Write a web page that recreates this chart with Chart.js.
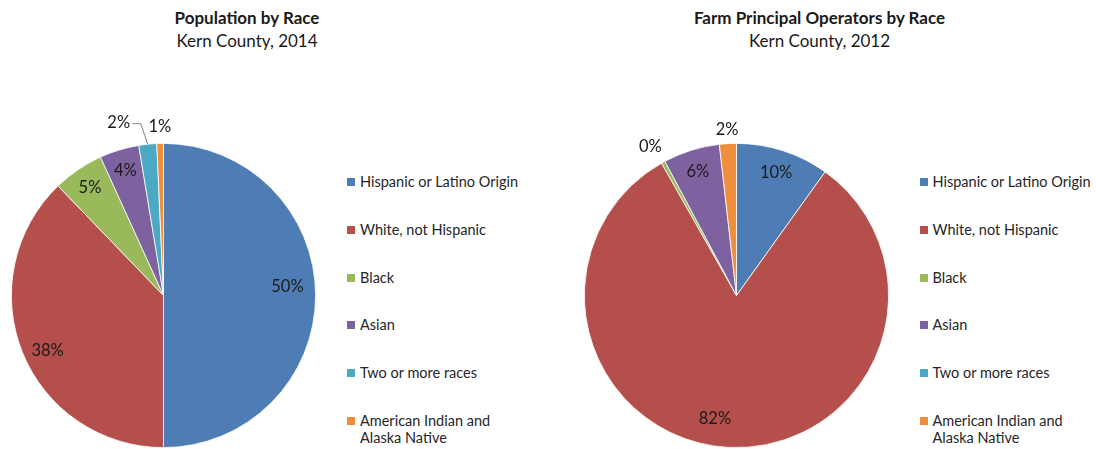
<!DOCTYPE html>
<html>
<head>
<meta charset="utf-8">
<script src="https://cdn.jsdelivr.net/npm/chart.js@4"></script>
<style>
  body { margin: 0; background: #fff; font-family: Lato, "Noto Sans", sans-serif; color: #1a1a1a; }
  #wrap { position: relative; width: 1096px; height: 449px; overflow: hidden; }
  .panel { position: absolute; top: 0; width: 494px; height: 449px; }
  .ttl { position: absolute; left: 0; width: 494px; text-align: center; font-size: 17px; line-height: 22px; }
  .ttl.main { top: 7px; font-weight: bold; }
  .ttl.sub { top: 30px; }
  .pie { position: absolute; left: 0; top: 0; width: 330px; height: 449px; }
  .legend { position: absolute; left: 347px; top: 173px; margin: 0; padding: 0; list-style: none; font-size: 14.5px; line-height: 17.5px; color: #262626; }
  .legend li { display: flex; align-items: flex-start; height: 17.5px; margin-bottom: 30.3px; }
  .legend li.two { height: 35px; }
  .legend .box { width: 8px; height: 8px; margin: 5px 5px 0 0; flex: none; }
  .legend .txt { width: 165px; }
</style>
</head>
<body>
<div id="wrap">
  <div class="panel" style="left:0">
    <div class="ttl main">Population by Race</div>
    <div class="ttl sub">Kern County, 2014</div>
    <div class="pie"><canvas id="pie-pop"></canvas></div>
    <ul class="legend" id="legend-pop"></ul>
  </div>
  <div class="panel" style="left:572.5px">
    <div class="ttl main">Farm Principal Operators by Race</div>
    <div class="ttl sub">Kern County, 2012</div>
    <div class="pie"><canvas id="pie-farm"></canvas></div>
    <ul class="legend" id="legend-farm"></ul>
  </div>
</div>
<script>
// categories (same for both pies)
var races = ["Hispanic or Latino Origin", "White, not Hispanic", "Black", "Asian", "Two or more races", "American Indian and Alaska Native"];
var raceColors = ['#4e7db5', '#b54f4b', '#99b95b', '#7e62a0', '#4ba9c3', '#ef8f3e'];

// percent shares
var population2014 = [50.0, 37.8, 5.4, 4.2, 1.9, 0.7];
var farmOperators2012 = [9.9, 81.9, 0.4, 6.0, 0, 1.8];

// where each percent label sits: fraction of radius along slice middle, plus nudge
var popLabelPlace = [
    { f: 0.815, dy: -9 }, { f: 0.85, dx: 4, dy: 7 }, { f: 0.86 }, { f: 0.86 },
    { f: 1.0, dx: -29, dy: -21.5, leader: true },
    { f: 1.11 }
];
var farmLabelPlace = [
    { f: 0.85 }, { f: 0.81, dx: -15 }, { f: 1.12, dx: -4 }, { f: 0.855 },
    null,
    { f: 1.095 }
];

// draws the "NN%" labels on/around the slices
var sliceLabels = {
    id: 'sliceLabels',
    afterDatasetsDraw: function (chart, args, opts) {
        var ctx = chart.ctx;
        var values = chart.data.datasets[0].data;
        var total = values.reduce(function (a, b) { return a + b; }, 0);
        var arcs = chart.getDatasetMeta(0).data;
        ctx.save();
        ctx.font = opts.font;
        ctx.fillStyle = '#1a1a1a';
        ctx.textAlign = 'center';
        ctx.textBaseline = 'middle';
        for (var i = 0; i < arcs.length; i++) {
            var p = opts.place[i];
            if (!p) continue;
            var a = arcs[i].getProps(['x', 'y', 'startAngle', 'endAngle', 'outerRadius'], true);
            var mid = (a.startAngle + a.endAngle) / 2;
            var ax = a.x + Math.cos(mid) * a.outerRadius * p.f;
            var ay = a.y + Math.sin(mid) * a.outerRadius * p.f;
            var lx = ax + (p.dx || 0);
            var ly = ay + (p.dy || 0);
            if (p.leader) {
                ctx.strokeStyle = '#808080';
                ctx.lineWidth = 1;
                ctx.beginPath();
                ctx.moveTo(ax, ay);
                ctx.lineTo(lx + 22, ly + 1);
                ctx.lineTo(lx + 13.5, ly + 1);
                ctx.stroke();
            }
            ctx.fillText(Math.round(values[i] / total * 100) + '%', lx, ly);
        }
        ctx.restore();
    }
};

function makePie(canvasId, values, place) {
    return new Chart(document.getElementById(canvasId), {
        type: 'pie',
        data: {
            labels: races,
            datasets: [{
                data: values,
                backgroundColor: raceColors,
                borderColor: '#ffffff',
                borderWidth: 0.8,
                hoverOffset: 0
            }]
        },
        options: {
            responsive: true,
            maintainAspectRatio: false,
            animation: false,
            layout: { padding: { top: 143, left: 10, right: 13, bottom: 1 } },
            plugins: {
                legend: { display: false },
                tooltip: { enabled: false },
                sliceLabels: { place: place, font: '16.5px Lato, "Noto Sans", sans-serif' }
            }
        },
        plugins: [sliceLabels]
    });
}

function makeLegend(listId) {
    var html = '';
    for (var i = 0; i < races.length; i++) {
        var cls = races[i].length > 26 ? ' class="two"' : '';
        html += '<li' + cls + '><span class="box" style="background:' + raceColors[i] + '"></span>' +
            '<span class="txt">' + races[i] + '</span></li>';
    }
    document.getElementById(listId).innerHTML = html;
}

makePie('pie-pop', population2014, popLabelPlace);
makePie('pie-farm', farmOperators2012, farmLabelPlace);
makeLegend('legend-pop');
makeLegend('legend-farm');
</script>
</body>
</html>
